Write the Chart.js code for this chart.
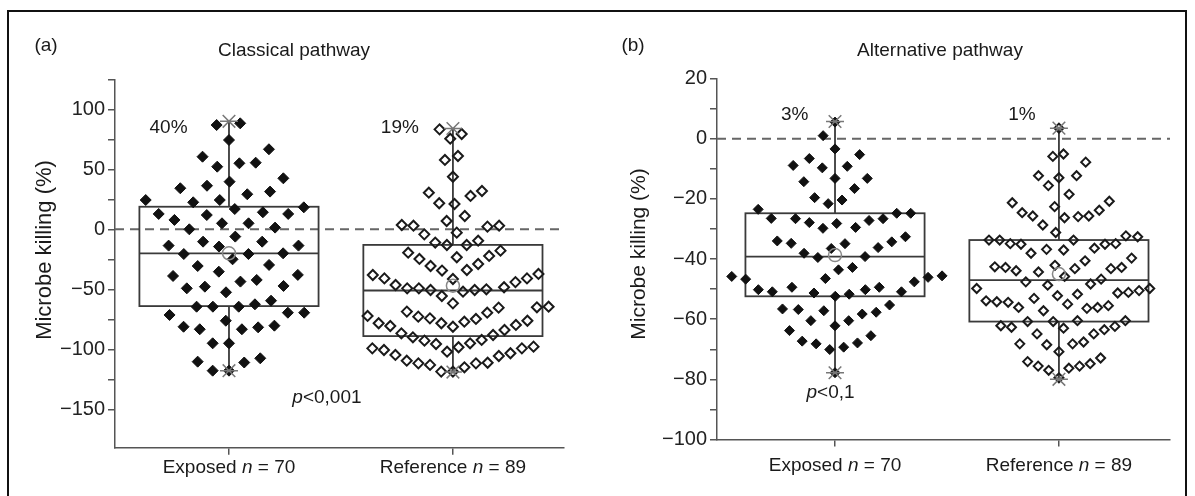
<!DOCTYPE html>
<html>
<head>
<meta charset="utf-8">
<script src="https://cdn.jsdelivr.net/npm/chart.js@4.4.1/dist/chart.umd.min.js"></script>
<style>
html, body { margin: 0; padding: 0; background: #fff; }
#wrap { position: relative; width: 1195px; height: 496px; overflow: hidden; }
#frame { position: absolute; left: 7px; top: 10px; width: 1180px; height: 500px; border: 2px solid #111; box-sizing: border-box; }
#ca { position: absolute; left: 0; top: 0; }
#cb { position: absolute; left: 600px; top: 0; }
</style>
</head>
<body>
<div id="wrap">
  <div id="frame"></div>
  <canvas id="ca" width="600" height="496" style="width:600px;height:496px"></canvas>
  <canvas id="cb" width="595" height="496" style="width:595px;height:496px"></canvas>
</div>
<script>
const groups = ['Exposed', 'Reference'];
const groupN = [70, 89];

// microbe killing (%) per subject
const classicalExposed = [88.3, 86.9, 74.4, 66.7, 60.5, 55, 52.2, 55.5, 42.5, 39.7, 34.2, 36.3, 29.2, 31.4,
    24.4, 22.5, 24.4, 16.9, 18.3, 12.8, 11.9, 14.2, 12.8, 5, 7.8, 5, 1.4, 0, -10.3, -13.6, -14.4, -13.6,
    -10.3, -6.1, -20.6, -25, -20, -20.6, -30.6, -29.7, -38, -38.9, -35.3, -43.6, -47.8, -52.5, -49.2,
    -47.2, -42.2, -59.5, -64.5, -64.5, -64.5, -62.5, -69.5, -71.4, -69.5, -76.2, -81.2, -83.3, -80.3,
    -83.3, -81.7, -95, -95, -110.3, -111, -107.5, -117.8, -117.8];
const classicalReference = [79.4, 83.3, 75.5, 57.8, 61.1, 43.8, 30.5, 31.9, 27.8, 21.7, 21.1, 11.1, 6.9,
    3, 3, 2.2, 3.6, -2.8, -4.2, -9.5, -13.1, -13.1, -11.1, -17.8, -19.5,
    -23.3, -28.9, -33.9, -38.1, -37.2, -34.4, -30.6, -24.7, -22.2,
    -41.4, -40.9, -40.9, -46.4, -44,
    -48.3, -49.2, -50.6, -52, -55.6, -50.6, -50, -49.2,
    -64.5, -65.3, -69.5, -72.8, -74.7, -77, -78.3, -79.7, -78.3, -76.2, -74.2, -72.2, -68.6, -65, -61.7,
    -81.2, -86.7, -90, -92.8, -95.6, -97.8, -99.2, -100.6, -99.2, -98.3, -95, -92.2, -88.1, -83.9, -80.6,
    -102, -104.7, -109.5, -111.7, -113, -118.6, -118.6, -115, -111.7, -111.2, -105.6, -103.3];
const alternativeExposed = [5.5, 1, -3.4, -5.3, -6.6, -9.2, -9.7, -8.9, -13.2, -14.3, -13.2, -16.6, -19.6,
    -21.6, -20.4, -23.5, -24.8, -24.8, -26.6, -26.6, -27.9, -29.5, -29.8, -28.2, -27.2, -26.5,
    -32.6, -34.3, -34.9, -36.5, -39.2, -39.5, -38.1, -36.2, -34.8, -34,
    -42.8, -45.6, -46.1, -46.7, -49.4, -49.4, -47.6, -46.5, -45.8, -43.6,
    -50.2, -50.9, -51.7, -52.4, -51.3, -50.9, -50.2,
    -55.3, -56.8, -57.7, -58.3, -57.2, -56.6,
    -60.5, -63.8, -62.2, -60.5,
    -67.3, -68.2, -70.1, -69.3, -67.9, -65.5,
    -77.8];
const alternativeReference = [3.5, -5.9, -5.1, -7.8, -12.3, -13, -12.3, -15.6, -18.5, -20.8, -22.6, -24.6,
    -25.7, -26.3, -28.7, -25.9, -25.7, -23.8, -21.3,
    -32.3, -33.7, -33.7, -34.9, -35.1, -36.8, -38.1, -39.7, -37, -36.4, -35.1, -34.9, -33.7, -32.6, -31.2,
    -40.6, -42.8, -42.8, -43.2, -44.3, -46.7, -48.3, -48.7, -47.6, -45.8, -43.9, -43.2, -42.6, -42.1,
    -49.8, -51.1, -51.7, -53.1, -54.2, -55, -56.1, -56.4, -57.2, -56.1, -55.5, -54.4, -53.9, -52.2, -51.3, -50.5, -49.8,
    -60.8, -60.5, -62.4, -63, -64.9, -67.6, -68.2, -68.5, -68.2, -64.9, -63.5, -62.7, -62.2, -60.8, -60.5,
    -70.8, -74.1, -75.6, -76.3, -77, -75.6, -74.8, -72.9, -79.5];

// box plot summaries, [exposed, reference]
const classicalQ1 = [-64, -89];
const classicalMedian = [-20, -51];
const classicalQ3 = [18.8, -13];
const classicalMin = [-117.8, -119];
const classicalMax = [90, 84];
const classicalMean = [-20, -47];
const alternativeQ1 = [-52.4, -60.8];
const alternativeMedian = [-39.2, -47];
const alternativeQ3 = [-24.8, -33.7];
const alternativeMin = [-77.8, -80];
const alternativeMax = [5.7, 3.5];
const alternativeMean = [-38.7, -45];

const classicalPercent = ['40%', '19%'];
const alternativePercent = ['3%', '1%'];
const classicalP = '<0,001';
const alternativeP = '<0,1';

const classicalTicks = [-150, -125, -100, -75, -50, -25, 0, 25, 50, 75, 100, 125];
const classicalLabelled = [-150, -100, -50, 0, 50, 100];
const alternativeTicks = [-100, -90, -80, -70, -60, -50, -40, -30, -20, -10, 0, 10, 20];
const alternativeLabelled = [-100, -80, -60, -40, -20, 0, 20];

const FONT = '"Liberation Sans", Arial, sans-serif';
Chart.defaults.font.family = FONT;

function fmt(v)
{
    return v < 0 ? '\u2212' + Math.abs(v) : String(v);
}

function mixedText(ctx, parts, x, y, size)
{
    let widths = parts.map(p => {
        ctx.font = (p[1] ? 'italic ' : '') + size + 'px ' + FONT;
        return ctx.measureText(p[0]).width;
    });
    let cx = x - widths.reduce((a, b) => a + b, 0) / 2;
    ctx.textAlign = 'left';
    ctx.textBaseline = 'middle';
    parts.forEach((p, i) => {
        ctx.font = (p[1] ? 'italic ' : '') + size + 'px ' + FONT;
        ctx.fillText(p[0], cx, y);
        cx += widths[i];
    });
}

// swarm placement: ascending values, each as close to the centre as it can go
function swarmOffsets(values, toPixel, ax, ay)
{
    let order = values.map((v, i) => i).sort((a, b) => values[a] - values[b]);
    let placed = [];
    let off = new Array(values.length).fill(0);
    for (let i of order)
    {
        let v = toPixel(values[i]) / ay;
        let near = placed.filter(p => Math.abs(p.v - v) < 1);
        let cands = [0];
        for (let p of near)
        {
            let h = Math.sqrt(1 - (p.v - v) * (p.v - v));
            cands.push(p.u - h, p.u + h);
        }
        cands.sort((a, b) => Math.abs(a) - Math.abs(b) || a - b);
        let u = cands.find(c => near.every(p => (p.u - c) * (p.u - c) + (p.v - v) * (p.v - v) >= 0.9999));
        placed.push({ u: u, v: v });
        off[i] = u * ax;
    }
    return off;
}

function decorPlugin(o)
{
    return {
        id: 'decor',
        beforeDatasetsDraw(chart)
        {
            let ctx = chart.ctx, xs = chart.scales.x, ys = chart.scales.y, a = chart.chartArea;
            ctx.save();
            let y0 = ys.getPixelForValue(0);
            ctx.strokeStyle = '#666';
            ctx.lineWidth = 2;
            ctx.setLineDash([9, 6]);
            ctx.beginPath();
            ctx.moveTo(a.left, y0);
            ctx.lineTo(a.right, y0);
            ctx.stroke();
            ctx.setLineDash([]);
            ctx.strokeStyle = '#3a3a3a';
            ctx.lineWidth = 1.8;
            for (let i = 0; i < 2; i++)
            {
                let l = xs.getPixelForValue(i + 1 - 0.4), r = xs.getPixelForValue(i + 1 + 0.4);
                let cx = xs.getPixelForValue(i + 1);
                let top = ys.getPixelForValue(o.q3[i]), bot = ys.getPixelForValue(o.q1[i]);
                let med = ys.getPixelForValue(o.median[i]);
                ctx.strokeRect(l, top, r - l, bot - top);
                ctx.beginPath();
                ctx.moveTo(l, med); ctx.lineTo(r, med);
                ctx.moveTo(cx, top); ctx.lineTo(cx, ys.getPixelForValue(o.hi[i]));
                ctx.moveTo(cx, bot); ctx.lineTo(cx, ys.getPixelForValue(o.lo[i]));
                ctx.stroke();
            }
            ctx.restore();
        },
        afterDatasetsDraw(chart)
        {
            let ctx = chart.ctx, xs = chart.scales.x, ys = chart.scales.y;
            ctx.save();
            ctx.lineWidth = 1.5;
            for (let i = 0; i < 2; i++)
            {
                let cx = xs.getPixelForValue(i + 1);
                ctx.strokeStyle = '#777';
                for (let v of [o.hi[i], o.lo[i]])
                {
                    let y = ys.getPixelForValue(v), r = 9;
                    ctx.beginPath();
                    ctx.moveTo(cx - r, y); ctx.lineTo(cx + r, y);
                    ctx.moveTo(cx - r * 0.7, y - r * 0.7); ctx.lineTo(cx + r * 0.7, y + r * 0.7);
                    ctx.moveTo(cx - r * 0.7, y + r * 0.7); ctx.lineTo(cx + r * 0.7, y - r * 0.7);
                    ctx.stroke();
                }
                ctx.strokeStyle = '#888';
                ctx.beginPath();
                ctx.arc(cx, ys.getPixelForValue(o.mean[i]), 6.5, 0, Math.PI * 2);
                ctx.stroke();
            }
            ctx.fillStyle = '#1a1a1a';
            ctx.font = '19px ' + FONT;
            ctx.textAlign = 'center';
            ctx.textBaseline = 'middle';
            o.percent.forEach((t, i) => {
                ctx.fillText(t, xs.getPixelForValue(o.percentPos[i][0]), ys.getPixelForValue(o.percentPos[i][1]));
            });
            mixedText(ctx, [['p', true], [o.p, false]], xs.getPixelForValue(o.pPos[0]), ys.getPixelForValue(o.pPos[1]), 19);
            ctx.restore();
        },
        afterDraw(chart)
        {
            let ctx = chart.ctx, xs = chart.scales.x;
            ctx.save();
            ctx.fillStyle = '#1a1a1a';
            ctx.textAlign = 'center';
            ctx.textBaseline = 'middle';
            ctx.font = '19px ' + FONT;
            ctx.fillText(o.letter, o.letterPos[0], o.letterPos[1]);
            ctx.fillText(o.title, o.titlePos[0], o.titlePos[1]);
            for (let i = 0; i < 2; i++)
            {
                mixedText(ctx, [[groups[i] + ' ', false], ['n', true], [' = ' + groupN[i], false]],
                    xs.getPixelForValue(i + 1), o.xLabelY, 19);
            }
            ctx.translate(o.yTitlePos[0], o.yTitlePos[1]);
            ctx.rotate(-Math.PI / 2);
            ctx.textAlign = 'center';
            ctx.font = o.yTitleSize + 'px ' + FONT;
            ctx.fillText('Microbe killing (%)', 0, 0);
            ctx.restore();
        }
    };
}

function makePanel(o)
{
    let canvas = document.getElementById(o.canvas);
    let axisStyle = { drawOnChartArea: false, drawTicks: true, tickLength: 7, color: '#555', lineWidth: 1.5 };
    let chart = new Chart(canvas, {
        type: 'scatter',
        data: {
            datasets: [
                {
                    data: o.exposed.map(v => ({ x: 1, y: v })),
                    pointStyle: 'rectRot', radius: o.radius[0],
                    backgroundColor: '#111', borderColor: '#111', borderWidth: 1
                },
                {
                    data: o.reference.map(v => ({ x: 2, y: v })),
                    pointStyle: 'rectRot', radius: o.radius[1],
                    backgroundColor: 'rgba(255,255,255,0)', borderColor: '#1a1a1a', borderWidth: 2
                }
            ]
        },
        options: {
            responsive: false,
            animation: false,
            events: [],
            layout: {
                autoPadding: false,
                padding: { left: 0, right: canvas.width - o.area.right, top: o.area.top, bottom: 0 }
            },
            plugins: { legend: { display: false }, tooltip: { enabled: false } },
            scales: {
                x: {
                    type: 'linear', min: o.xRange[0], max: o.xRange[1],
                    afterBuildTicks: s => { s.ticks = [{ value: 1 }, { value: 2 }]; },
                    afterFit: s => { s.height = canvas.height - o.area.bottom; },
                    ticks: { callback: () => '' },
                    grid: axisStyle,
                    border: { display: true, color: '#555', width: 1.5 }
                },
                y: {
                    type: 'linear', min: o.yRange[0], max: o.yRange[1],
                    afterBuildTicks: s => { s.ticks = o.ticks.map(v => ({ value: v })); },
                    afterFit: s => { s.width = o.area.left; },
                    ticks: {
                        callback: v => o.labelled.includes(v) ? fmt(v) : '',
                        font: { size: 20 }, color: '#222', padding: 3
                    },
                    grid: axisStyle,
                    border: { display: true, color: '#555', width: 1.5 }
                }
            }
        },
        plugins: [decorPlugin(o)]
    });

    let xs = chart.scales.x, ys = chart.scales.y;
    [o.exposed, o.reference].forEach((vals, k) => {
        let off = swarmOffsets(vals, v => ys.getPixelForValue(v), o.spacing[k][0], o.spacing[k][1]);
        let cx = xs.getPixelForValue(k + 1);
        chart.data.datasets[k].data = vals.map((v, i) => ({ x: xs.getValueForPixel(cx + off[i]), y: v }));
    });
    chart.update('none');
    return chart;
}

let classicalChart = makePanel({
    canvas: 'ca', letter: '(a)', letterPos: [46, 46], title: 'Classical pathway', titlePos: [294, 51],
    yTitlePos: [45, 250], yTitleSize: 22, xLabelY: 468,
    area: { left: 115, right: 564, top: 79.3, bottom: 447.7 },
    xRange: [0.491, 2.496], yRange: [-182, 125],
    ticks: classicalTicks, labelled: classicalLabelled,
    exposed: classicalExposed, reference: classicalReference,
    q1: classicalQ1, median: classicalMedian, q3: classicalQ3, lo: classicalMin, hi: classicalMax, mean: classicalMean,
    percent: classicalPercent, percentPos: [[0.73, 84.4], [1.763, 84.4]],
    p: classicalP, pPos: [1.4375, -140.6],
    spacing: [[16.3, 23], [11.7, 23]], radius: [5.5, 5]
});

let alternativeChart = makePanel({
    canvas: 'cb', letter: '(b)', letterPos: [33, 46], title: 'Alternative pathway', titlePos: [340, 51],
    yTitlePos: [39, 254], yTitleSize: 21, xLabelY: 466,
    area: { left: 117, right: 570, top: 78.5, bottom: 439.5 },
    xRange: [0.473, 2.496], yRange: [-100, 20],
    ticks: alternativeTicks, labelled: alternativeLabelled,
    exposed: alternativeExposed, reference: alternativeReference,
    q1: alternativeQ1, median: alternativeMedian, q3: alternativeQ3, lo: alternativeMin, hi: alternativeMax, mean: alternativeMean,
    percent: alternativePercent, percentPos: [[0.82, 7.8], [1.835, 7.8]],
    p: alternativeP, pPos: [0.98, -84.3],
    spacing: [[14, 25], [10.7, 26]], radius: [5, 4.5]
});
</script>
</body>
</html>
